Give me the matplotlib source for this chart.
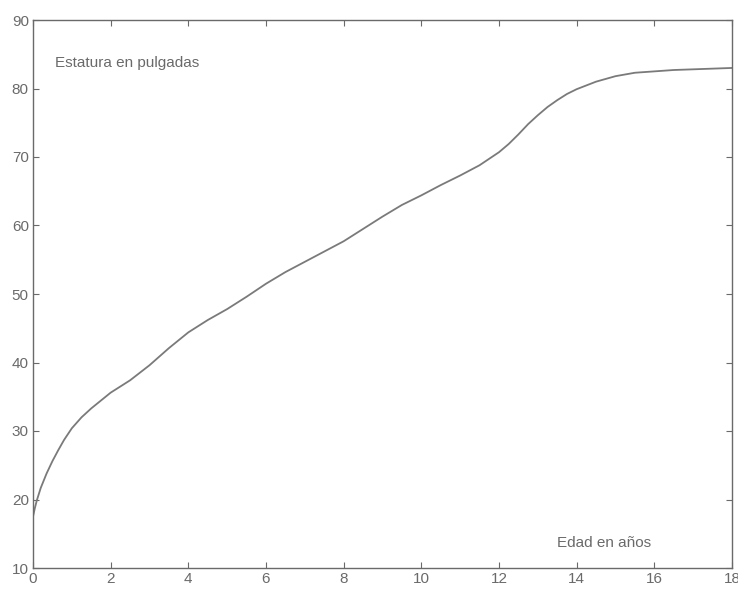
import matplotlib
matplotlib.use("Agg")
import matplotlib.pyplot as plt
import numpy as np

edad = [0, 0.05, 0.1, 0.2, 0.35, 0.5, 0.65, 0.8, 1, 1.25, 1.5, 2, 2.5, 3, 3.5, 4,
        4.5, 5, 5.5, 6, 6.5, 7, 7.5, 8, 8.5, 9, 9.5, 10, 10.5, 11, 11.5, 12,
        12.25, 12.5, 12.75, 13, 13.25, 13.5, 13.75, 14, 14.5, 15, 15.5, 16,
        16.5, 17, 17.5, 18]
estatura = [17.5, 18.8, 19.9, 21.7, 23.8, 25.6, 27.2, 28.7, 30.4, 32.0, 33.3,
            35.6, 37.4, 39.6, 42.1, 44.4, 46.2, 47.8, 49.6, 51.5, 53.2, 54.7,
            56.2, 57.7, 59.5, 61.3, 63.0, 64.4, 65.9, 67.3, 68.8, 70.7, 71.9,
            73.3, 74.8, 76.1, 77.3, 78.3, 79.2, 79.9, 81.0, 81.8, 82.3, 82.5,
            82.7, 82.8, 82.9, 83.0]
xticks = [0, 2, 4, 6, 8, 10, 12, 14, 16, 18]
yticks = [10, 20, 30, 40, 50, 60, 70, 80, 90]

plt.rcParams['font.family'] = ['Liberation Sans', 'DejaVu Sans']
fig = plt.figure(figsize=(7.38, 5.89), dpi=100)
ax = fig.add_axes([33/738, 21/589, 699/738, 548/589])
gray = '#6a6a6a'
ax.plot(edad, estatura, color='#7a7a7a', lw=1.3)
ax.set_xlim(0, 18)
ax.set_ylim(10, 90)
ax.set_xticks(xticks)
ax.set_yticks(yticks)
ax.tick_params(direction='in', top=True, right=True, length=4, width=0.8,
               colors=gray, labelsize=11, pad=3)
for s in ax.spines.values():
    s.set_color(gray)
    s.set_linewidth(1.0)
ax.text(0.57, 83.7, 'Estatura en pulgadas', fontsize=11, color=gray,
        ha='left', va='center')
ax.text(13.5, 13.6, 'Edad en años', fontsize=11, color=gray,
        ha='left', va='center')
fig.savefig('out.png', dpi=100)
